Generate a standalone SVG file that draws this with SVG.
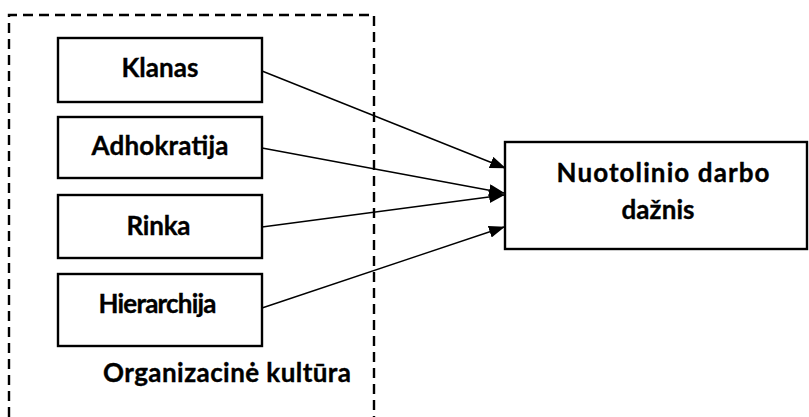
<svg xmlns="http://www.w3.org/2000/svg" width="809" height="417" viewBox="0 0 809 417">
  <defs>
    <marker id="arrow" markerWidth="16" markerHeight="12" refX="15" refY="6" orient="auto" markerUnits="userSpaceOnUse">
      <path d="M0,0 L16,6 L0,12 Z" fill="#000"/>
    </marker>
    <style>
      .box { fill: #fff; stroke: #000; stroke-width: 2.4; }
      .lbl { font-family: Lato, "Liberation Sans", sans-serif; font-weight: bold; font-size: 26px; fill: #000; stroke: #000; stroke-width: 0.35; text-anchor: middle; }
      .edge { stroke: #000; stroke-width: 1.4; fill: none; marker-end: url(#arrow); }
      .group { fill: none; stroke: #000; stroke-width: 2.4; stroke-dasharray: 10 6; }
    </style>
  </defs>
  <rect width="809" height="417" fill="#fff"/>

  <!-- dashed boundary of the culture group -->
  <g id="culture-group">
    <path class="group" d="M9,417 V15 H374 V417"/>
    <text class="lbl" x="227" y="382" textLength="248">Organizacinė kultūra</text>
  </g>

  <g id="klanas">
    <rect class="box" x="58" y="38" width="204" height="64"/>
    <text class="lbl" x="160" y="77" textLength="77">Klanas</text>
  </g>
  <g id="adhokratija">
    <rect class="box" x="58" y="117" width="204" height="61"/>
    <text class="lbl" x="160" y="155" textLength="137">Adhokratija</text>
  </g>
  <g id="rinka">
    <rect class="box" x="58" y="195" width="204" height="63"/>
    <text class="lbl" x="158.5" y="235" textLength="64">Rinka</text>
  </g>
  <g id="hierarchija">
    <rect class="box" x="58" y="274" width="204" height="72"/>
    <text class="lbl" x="157.5" y="313" textLength="118">Hierarchija</text>
  </g>

  <g id="nuotolinio-darbo-daznis">
    <rect class="box" x="505" y="142" width="302" height="107"/>
    <text class="lbl" x="663" y="182" textLength="213">Nuotolinio darbo</text>
    <text class="lbl" x="658" y="219" textLength="73">dažnis</text>
  </g>

  <g id="connectors">
    <line class="edge" x1="262" y1="71" x2="505" y2="168"/>
    <line class="edge" x1="262" y1="148" x2="504" y2="193"/>
    <line class="edge" x1="262" y1="227" x2="504" y2="195"/>
    <line class="edge" x1="262" y1="308" x2="504" y2="227"/>
  </g>
</svg>
